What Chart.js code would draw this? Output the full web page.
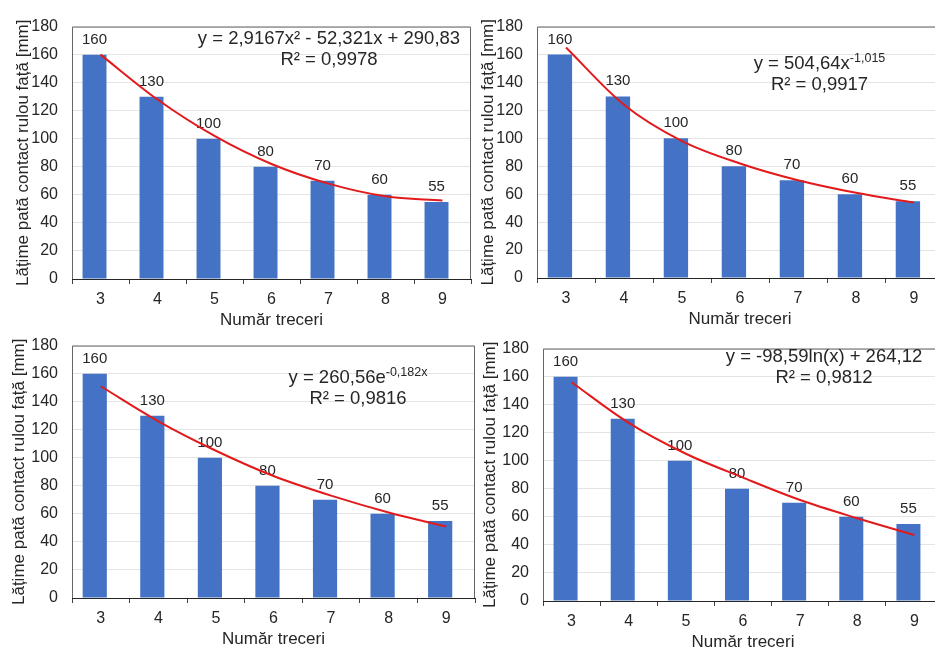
<!DOCTYPE html>
<html>
<head>
<meta charset="utf-8">
<script src="https://cdn.jsdelivr.net/npm/chart.js@4.4.1/dist/chart.umd.min.js"></script>
<style>
  html, body { margin: 0; padding: 0; background: #fff; width: 935px; height: 652px; overflow: hidden; }
  body { position: relative; font-family: "Liberation Sans", Arial, sans-serif; }
  canvas { position: absolute; }
  .eq { position: absolute; transform: translateX(-50%); text-align: center; white-space: nowrap;
        font-size: 18.5px; line-height: 21px; color: #262626; }
  .eq sup { font-size: 12.5px; line-height: 0; vertical-align: 7px; }
</style>
</head>
<body>
<canvas id="g1"></canvas>
<canvas id="g2"></canvas>
<canvas id="g3"></canvas>
<canvas id="g4"></canvas>
<script>
// date
const treceri = ['3', '4', '5', '6', '7', '8', '9'];
const latimePata = [160, 130, 100, 80, 70, 60, 55];
const trendPolinomial = [160, 128, 102, 82, 68, 59, 56];
const trendPutere = [165, 124, 98, 82, 70, 61, 54];
const trendExponential = [151, 126, 105, 87, 73, 61, 51];
const trendLogaritmic = [156, 127, 105, 88, 72, 59, 47];
const yMin = 0, yMax = 180, yPas = 20;
const titluY = 'Lățime pată contact rulou față [mm]';
const titluX = 'Număr treceri';
const ecuatii = [
    ['y = 2,9167x² - 52,321x + 290,83', 'R² = 0,9978'],
    ['y = 504,64x<sup>-1,015</sup>', 'R² = 0,9917'],
    ['y = 260,56e<sup>-0,182x</sup>', 'R² = 0,9816'],
    ['y = -98,59ln(x) + 264,12', 'R² = 0,9812']
];

Chart.defaults.font.family = '"Liberation Sans", Arial, sans-serif';
Chart.defaults.color = '#404040';

// pozitii panouri (canvas + ecuatie)
const panouri = [
    { id: 'g1', trend: trendPolinomial, eq: ecuatii[0], x: 6, y: 3, w: 467, h: 330, tp: 7, ex: 329, ey: 26.5 },
    { id: 'g2', trend: trendPutere, eq: ecuatii[1], x: 471, y: 3, w: 474, h: 329, tp: 7, ex: 819.5, ey: 51.5 },
    { id: 'g3', trend: trendExponential, eq: ecuatii[2], x: 6, y: 322, w: 471, h: 330, tp: 3, ex: 358, ey: 366 },
    { id: 'g4', trend: trendLogaritmic, eq: ecuatii[3], x: 477, y: 325, w: 468, h: 330, tp: 3, ex: 824, ey: 344.5 }
];

const cadru = {
    id: 'cadru',
    beforeDatasetsDraw(chart) {
        const a = chart.chartArea, ctx = chart.ctx;
        ctx.save();
        ctx.strokeStyle = '#666666';
        ctx.lineWidth = 1;
        ctx.beginPath();
        ctx.moveTo(a.left + 0.5, a.bottom);
        ctx.lineTo(a.left + 0.5, a.top + 0.5);
        ctx.lineTo(a.right - 0.5, a.top + 0.5);
        ctx.lineTo(a.right - 0.5, a.bottom);
        ctx.stroke();
        // etichete valori deasupra barelor
        const meta = chart.getDatasetMeta(1);
        ctx.font = '15px "Liberation Sans", Arial, sans-serif';
        ctx.fillStyle = '#262626';
        ctx.textAlign = 'center';
        ctx.textBaseline = 'alphabetic';
        meta.data.forEach((bar, i) => {
            ctx.fillText(String(chart.data.datasets[1].data[i]), bar.x, bar.y - 11);
        });
        ctx.restore();
    }
};

panouri.forEach(p => {
    const cv = document.getElementById(p.id);
    cv.width = p.w; cv.height = p.h;
    cv.style.left = p.x + 'px'; cv.style.top = p.y + 'px';

    const d = document.createElement('div');
    d.className = 'eq';
    d.style.left = p.ex + 'px'; d.style.top = p.ey + 'px';
    d.innerHTML = p.eq[0] + '<br>' + p.eq[1];
    document.body.appendChild(d);

    new Chart(cv.getContext('2d'), {
        type: 'bar',
        data: {
            labels: treceri,
            datasets: [
                {
                    type: 'line', label: 'Trend', data: p.trend, order: 1,
                    borderColor: '#e31a1c', borderWidth: 2, pointRadius: 0,
                    cubicInterpolationMode: 'monotone', fill: false
                },
                {
                    label: 'Lățime pată', data: latimePata, order: 2,
                    backgroundColor: '#4472C4', categoryPercentage: 0.42, barPercentage: 2.0
                },
                {
                    label: '', data: treceri.map(() => null), order: 2,
                    backgroundColor: 'rgba(0,0,0,0)', categoryPercentage: 0.42, barPercentage: 2.0
                }
            ]
        },
        options: {
            responsive: false,
            animation: false,
            devicePixelRatio: 1,
            layout: { padding: { top: 12, right: 2, left: 0, bottom: 0 } },
            plugins: { legend: { display: false }, tooltip: { enabled: false } },
            scales: {
                x: {
                    grid: { display: true, drawOnChartArea: false, drawTicks: true, tickLength: 5, color: '#404040', offset: true },
                    border: { display: true, color: '#262626', width: 1 },
                    ticks: { padding: 6, font: { size: 16 }, color: '#262626', maxRotation: 0 },
                    title: { display: true, text: titluX, font: { size: 17 }, color: '#262626', padding: { top: 0, bottom: 2 } },
                    afterFit: s => { s.height = 54; }
                },
                y: {
                    min: yMin, max: yMax,
                    grid: { color: '#e4e4e4', drawTicks: false },
                    border: { display: false },
                    ticks: { stepSize: yPas, padding: 14, font: { size: 16 }, color: '#262626' },
                    title: { display: true, text: titluY, font: { size: 17 }, color: '#262626', padding: { top: p.tp, bottom: 0 } },
                    afterFit: s => { s.width = 66; }
                }
            }
        },
        plugins: [cadru]
    });
});
</script>
</body>
</html>
